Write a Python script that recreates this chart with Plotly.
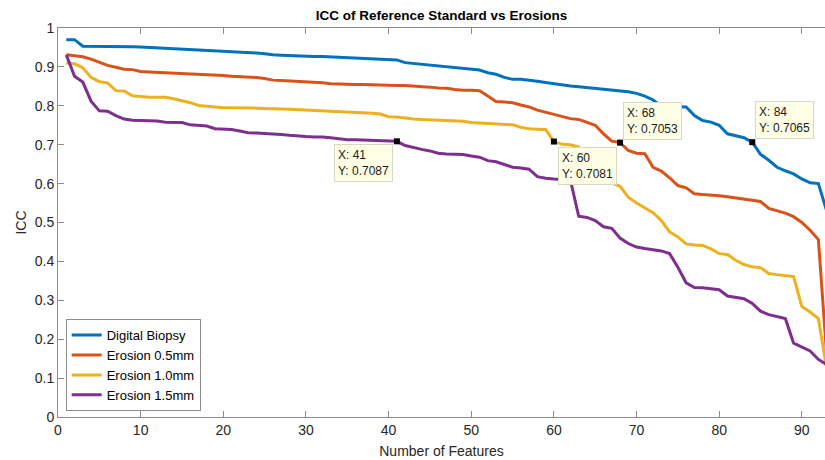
import plotly.graph_objects as go

features = list(range(1, 94))

digital_biopsy = [
    0.970, 0.970, 0.953, 0.953, 0.953, 0.953, 0.952, 0.952, 0.952, 0.951,
    0.950, 0.949, 0.948, 0.947, 0.946, 0.945, 0.944, 0.942, 0.941, 0.940,
    0.939, 0.938, 0.937, 0.936, 0.934, 0.931, 0.930, 0.929, 0.928, 0.927,
    0.927, 0.927, 0.926, 0.925, 0.924, 0.923, 0.922, 0.921, 0.920, 0.919,
    0.918, 0.911, 0.909, 0.907, 0.905, 0.903, 0.901, 0.899, 0.897, 0.895,
    0.892, 0.885, 0.881, 0.873, 0.868, 0.868, 0.866, 0.863, 0.860, 0.857,
    0.853, 0.851, 0.849, 0.847, 0.845, 0.843, 0.841, 0.839, 0.836, 0.832,
    0.825, 0.815, 0.799, 0.798, 0.798, 0.797, 0.775, 0.762, 0.758, 0.750,
    0.728, 0.723, 0.718, 0.7065, 0.675, 0.660, 0.642, 0.633, 0.625, 0.612,
    0.602, 0.600, 0.530,
]

erosion_05 = [
    0.931, 0.928, 0.926, 0.920, 0.912, 0.904, 0.899, 0.894, 0.893, 0.888,
    0.887, 0.886, 0.886, 0.885, 0.884, 0.882, 0.881, 0.880, 0.879, 0.878,
    0.876, 0.875, 0.874, 0.873, 0.870, 0.866, 0.865, 0.864, 0.863, 0.862,
    0.861, 0.859, 0.857, 0.856, 0.856, 0.855, 0.855, 0.854, 0.853, 0.852,
    0.852, 0.852, 0.851, 0.850, 0.848, 0.846, 0.845, 0.842, 0.840, 0.840,
    0.839, 0.825, 0.811, 0.810, 0.808, 0.802, 0.797, 0.789, 0.783, 0.778,
    0.772, 0.767, 0.765, 0.758, 0.750, 0.728, 0.709, 0.7053, 0.685, 0.678,
    0.677, 0.642, 0.632, 0.615, 0.595, 0.589, 0.574, 0.572, 0.571, 0.569,
    0.566, 0.563, 0.560, 0.557, 0.554, 0.536, 0.530, 0.524, 0.515, 0.500,
    0.480, 0.456, 0.160,
]

erosion_10 = [
    0.910, 0.908, 0.898, 0.873, 0.862, 0.859, 0.839, 0.838, 0.826, 0.824,
    0.822, 0.822, 0.822, 0.818, 0.813, 0.808, 0.801, 0.799, 0.797, 0.795,
    0.795, 0.795, 0.794, 0.794, 0.793, 0.793, 0.792, 0.791, 0.790, 0.789,
    0.789, 0.788, 0.787, 0.786, 0.785, 0.784, 0.783, 0.781, 0.779, 0.772,
    0.771, 0.768, 0.766, 0.765, 0.764, 0.763, 0.762, 0.762, 0.760, 0.757,
    0.756, 0.755, 0.754, 0.753, 0.751, 0.745, 0.741, 0.740, 0.739, 0.7081,
    0.701, 0.700, 0.694, 0.660, 0.625, 0.607, 0.602, 0.593, 0.565, 0.550,
    0.537, 0.525, 0.505, 0.476, 0.463, 0.445, 0.442, 0.441, 0.432, 0.420,
    0.418, 0.403, 0.392, 0.386, 0.384, 0.369, 0.366, 0.364, 0.361, 0.284,
    0.270, 0.253, 0.125,
]

erosion_15 = [
    0.931, 0.876, 0.861, 0.812, 0.787, 0.786, 0.775, 0.766, 0.763, 0.762,
    0.762, 0.761, 0.758, 0.757, 0.757, 0.751, 0.749, 0.748, 0.741, 0.740,
    0.739, 0.735, 0.731, 0.730, 0.729, 0.728, 0.726, 0.724, 0.722, 0.721,
    0.720, 0.720, 0.718, 0.715, 0.713, 0.713, 0.712, 0.712, 0.710, 0.709,
    0.7087, 0.698, 0.692, 0.688, 0.684, 0.678, 0.676, 0.676, 0.675, 0.671,
    0.668, 0.659, 0.656, 0.649, 0.642, 0.640, 0.637, 0.618, 0.614, 0.612,
    0.611, 0.609, 0.516, 0.513, 0.505, 0.489, 0.485, 0.460, 0.446, 0.437,
    0.433, 0.430, 0.427, 0.420, 0.385, 0.345, 0.333, 0.332, 0.330, 0.327,
    0.311, 0.308, 0.304, 0.292, 0.272, 0.263, 0.258, 0.253, 0.190, 0.180,
    0.170, 0.148, 0.135,
]

series_names = ["Digital Biopsy", "Erosion 0.5mm", "Erosion 1.0mm", "Erosion 1.5mm"]
series_values = [digital_biopsy, erosion_05, erosion_10, erosion_15]
colors = ["#0072BD", "#D95319", "#EDB120", "#7E2F8E"]

# data tips
tip_x = [41, 60, 68, 84]
tip_y = [0.7087, 0.7081, 0.7053, 0.7065]
tip_place = ["lower-left", "lower-right", "upper-right", "upper-right"]

x_ticks = [0, 10, 20, 30, 40, 50, 60, 70, 80, 90]
y_ticks = [0, 0.1, 0.2, 0.3, 0.4, 0.5, 0.6, 0.7, 0.8, 0.9, 1]
y_tick_labels = ["0", "0.1", "0.2", "0.3", "0.4", "0.5", "0.6", "0.7", "0.8", "0.9", "1"]

FONT = "Liberation Sans, Arial, sans-serif"

fig = go.Figure()
for name, vals, col in zip(series_names, series_values, colors):
    fig.add_trace(go.Scatter(
        x=features, y=vals, mode="lines", name=name,
        line=dict(color=col, width=3),
    ))

fig.add_trace(go.Scatter(
    x=tip_x, y=tip_y, mode="markers", showlegend=False,
    marker=dict(symbol="square", size=6, color="black"),
))

for tx, ty, place in zip(tip_x, tip_y, tip_place):
    if place == "lower-left":
        xa, ya, xs, ys = "right", "top", -4, -3
    elif place == "lower-right":
        xa, ya, xs, ys = "left", "top", 4, -5
    else:
        xa, ya, xs, ys = "left", "bottom", 3, 3
    fig.add_annotation(
        x=tx, y=ty, xref="x", yref="y", showarrow=False,
        text=f"X: {tx}<br>Y: {ty:.4f}", align="left",
        xanchor=xa, yanchor=ya, xshift=xs, yshift=ys,
        bgcolor="#FFFFE6", bordercolor="#D8D8C8", borderwidth=1, borderpad=3,
        font=dict(family=FONT, size=12, color="#1a1a1a"),
    )

axis_common = dict(
    showgrid=False, zeroline=False, showline=True, linecolor="#8c8c8c", linewidth=1,
    ticks="inside", ticklen=6, tickcolor="#8c8c8c", automargin=False,
    tickfont=dict(family=FONT, size=14, color="#262626"),
)

fig.update_layout(
    width=825, height=460,
    margin=dict(l=58, r=0, t=27.5, b=43.3, autoexpand=False),
    paper_bgcolor="white", plot_bgcolor="white",
    title=dict(text="<b>ICC of Reference Standard vs Erosions</b>",
               x=(58 + 825) / 2 / 825, xanchor="center", y=1 - 15 / 460, yanchor="middle",
               font=dict(family=FONT, size=13.5, color="#000000")),
    xaxis=dict(range=[0, 92.8], tickvals=x_ticks, mirror="ticks",
               title=dict(text="Number of Features", standoff=9,
                          font=dict(family=FONT, size=14, color="#262626")),
               **axis_common),
    yaxis=dict(range=[0, 1], tickvals=y_ticks, ticktext=y_tick_labels,
               title=dict(text="ICC", standoff=4,
                          font=dict(family=FONT, size=14, color="#262626")),
               **axis_common),
    legend=dict(x=0.01, y=0.015, xanchor="left", yanchor="bottom",
                bgcolor="white", bordercolor="#8c8c8c", borderwidth=1,
                font=dict(family=FONT, size=13, color="#000000"),
                tracegroupgap=0, itemwidth=30),
    showlegend=True,
)

fig.write_html(
    "out.html",
    config={"displayModeBar": False},
    post_script="document.body.style.margin='0';document.body.style.overflow='hidden';",
)
